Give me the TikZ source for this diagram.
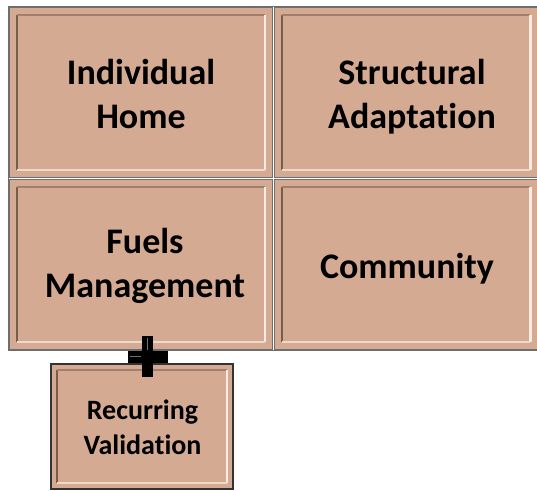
\documentclass[tikz,border=0pt]{standalone}
\usepackage{fontspec}
\setmainfont{Carlito}[Ligatures=NoCommon]
\usetikzlibrary{calc}
\definecolor{tile}{RGB}{212,170,146}
\definecolor{tiledark}{RGB}{120,92,76}
\definecolor{tilelight}{RGB}{248,236,226}
\definecolor{frame}{RGB}{110,110,110}
\tikzset{
  tilebox/.style={rectangle, fill=tile, draw=frame, line width=0.8pt, inner sep=0pt},
  bigtext/.style={font=\bfseries\fontsize{36}{44}\selectfont, align=center, anchor=base, inner sep=0pt},
  smalltext/.style={font=\bfseries\fontsize{28}{35}\selectfont, align=center, anchor=base, inner sep=0pt},
  shadeline/.style={line width=2.2pt, tiledark},
  glowline/.style={line width=2.2pt, tilelight},
}
% inset bevel: dark on the left and top, light on the right and bottom
\newcommand{\bevelof}[2]{%
  \draw[shadeline] ([xshift=#2pt,yshift=-#2pt]#1.north west) -- ([xshift=#2pt,yshift=#2pt]#1.south west);
  \draw[shadeline, tiledark!55!tile] ([xshift=#2pt,yshift=-#2pt]#1.north west) -- ([xshift=-#2pt,yshift=-#2pt]#1.north east);
  \draw[glowline] ([xshift=-#2pt,yshift=-#2pt]#1.north east) -- ([xshift=-#2pt,yshift=#2pt]#1.south east);
  \draw[glowline, tilelight!70!tile] ([xshift=#2pt,yshift=#2pt]#1.south west) -- ([xshift=-#2pt,yshift=#2pt]#1.south east);
}
\begin{document}
\begin{tikzpicture}[x=1pt, y=-1pt]
  \useasboundingbox (0,0) rectangle (537,490);
  % outer frame of the grid
  \draw[frame, line width=2pt, fill=white] (9,7) rectangle (540,350);
  % the four grid tiles
  \node[tilebox, minimum width=263pt, minimum height=170pt] (home) at (141,92.5) {};
  \node[tilebox, minimum width=264pt, minimum height=170pt] (struct) at (406,92.5) {};
  \node[tilebox, minimum width=263pt, minimum height=170pt] (fuels) at (141,264.5) {};
  \node[tilebox, minimum width=264pt, minimum height=170pt] (comm) at (406,264.5) {};
  \bevelof{home}{8}
  \bevelof{struct}{8}
  \bevelof{fuels}{8}
  \bevelof{comm}{8}
  % white seams between tiles
  \draw[white, line width=1.2pt] (273.5,7) -- (273.5,350);
  \draw[white, line width=1pt] (9,178.5) -- (537,178.5);
  % labels (anchored on the baseline of their last line)
  \node[bigtext] (homet) at (141,128) {Individual\\Home};
  \node[bigtext] (structt) at (412,128) {Structural\\Adaptation};
  \node[bigtext] (fuelst) at (145,297) {Fuels\\Management};
  \node[bigtext] (commt) at (407,278) {Community};
  % the recurring validation tile below
  \node[tilebox, draw=black!80, line width=1.5pt, minimum width=182pt, minimum height=125pt] (valid) at (142,426.5) {};
  \bevelof{valid}{7}
  \node[smalltext] (validt) at (142.5,454) {Recurring\\Validation};
  % join symbol linking the fuels tile to the validation tile
  \coordinate (plus) at ($(fuels.south)!0.5!(valid.north)+(6,0)$);
  \fill[black] ($(plus)+(-5.5,-21)$) rectangle ($(plus)+(5.5,20)$);
  \fill[black] ($(plus)+(-20,-6)$) rectangle ($(plus)+(20,6)$);
  \draw[black!55, line width=0.8pt] ($(plus)+(0,-19)$) -- ($(plus)+(0,-7)$);
  \draw[black!55, line width=0.8pt] ($(plus)+(-18,0)$) -- ($(plus)+(-7,0)$);
\end{tikzpicture}
\end{document}
